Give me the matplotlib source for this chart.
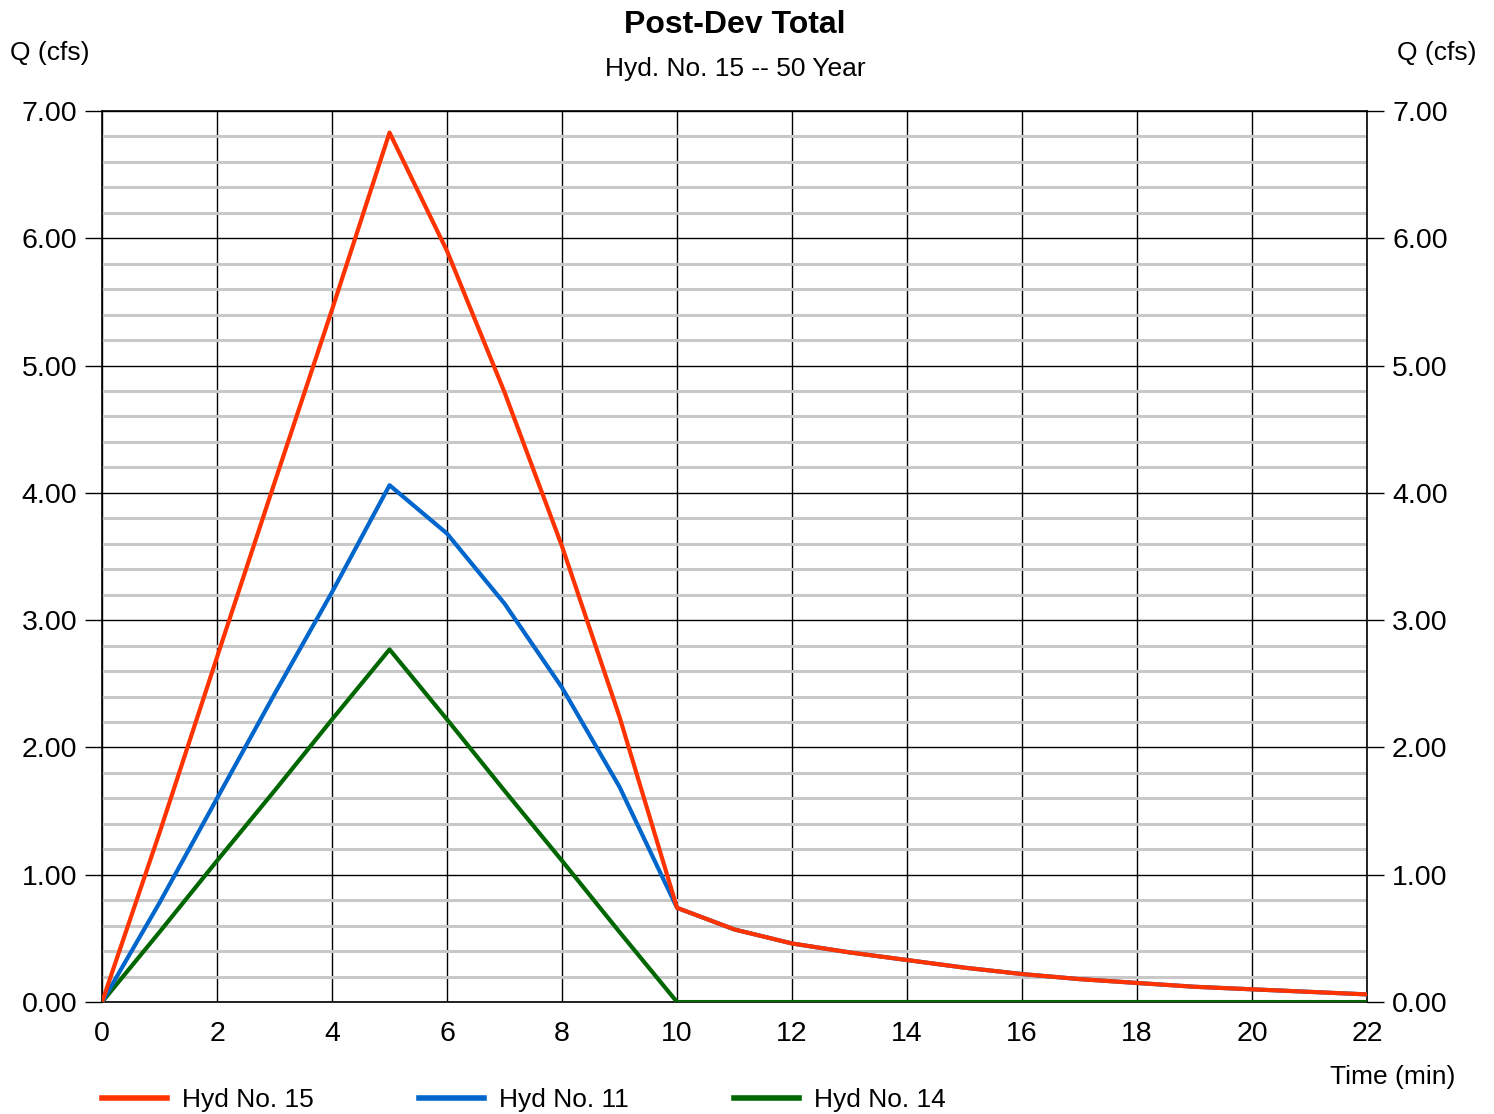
import matplotlib
matplotlib.use("Agg")
from matplotlib import pyplot as plt
from matplotlib.ticker import MultipleLocator

plt.rcParams["font.family"] = ["Liberation Sans", "DejaVu Sans"]

# === 数据 ===
time_min = [0, 1, 2, 3, 4, 5, 6, 7, 8, 9, 10, 11, 12, 13, 14, 15, 16, 17, 18, 19, 20, 21, 22]
hyd15 = [0, 1.33, 2.71, 4.08, 5.44, 6.83, 5.90, 4.79, 3.58, 2.24, 0.74, 0.57, 0.46, 0.39, 0.33,
         0.27, 0.22, 0.18, 0.15, 0.12, 0.10, 0.08, 0.06]
hyd11 = [0, 0.78, 1.60, 2.42, 3.22, 4.06, 3.68, 3.13, 2.47, 1.69, 0.74, 0.57, 0.46, 0.39, 0.33,
         0.27, 0.22, 0.18, 0.15, 0.12, 0.10, 0.08, 0.06]
hyd14 = [0, 0.55, 1.11, 1.66, 2.22, 2.77, 2.22, 1.66, 1.11, 0.55, 0, 0, 0, 0, 0,
         0, 0, 0, 0, 0, 0, 0, 0]
series = [("Hyd No. 15", hyd15, "#ff3300"),
          ("Hyd No. 11", hyd11, "#0066cc"),
          ("Hyd No. 14", hyd14, "#006600")]

fig = plt.figure(figsize=(14.94, 11.14), dpi=100)
ax = fig.add_axes([0.0683, 0.1005, 0.8467, 0.7999])

# 网格
ax.set_xlim(0, 22)
ax.set_ylim(0, 7)
ax.yaxis.set_major_locator(MultipleLocator(1))
ax.yaxis.set_minor_locator(MultipleLocator(0.2))
ax.xaxis.set_major_locator(MultipleLocator(2))
ax.grid(which="minor", axis="y", color="#c8c8c8", lw=2.2, zorder=0)
ax.grid(which="major", axis="both", color="black", lw=1.0, zorder=1)
for s in ax.spines.values():
    s.set_color("black")
    s.set_linewidth(1.2)

# 绘制顺序：绿 -> 蓝 -> 红（红在最上）
handles = {}
for name, vals, c in reversed(series):
    h, = ax.plot(time_min, vals, color=c, lw=3.0, zorder=3, label=name)
    handles[name] = h

ax.yaxis.set_major_formatter(lambda v, p: f"{v:.2f}")
ax.tick_params(axis="y", which="major", length=12, width=1, labelsize=20.5,
               left=True, right=True, labelleft=True, labelright=True, pad=6)
ax.tick_params(axis="y", which="minor", length=0)
ax.tick_params(axis="x", length=0, labelsize=20.5, pad=14)

# 标题与标注
fig.text(0.492, 0.978, "Post-Dev Total", ha="center", va="center",
         fontsize=23, fontweight="bold")
fig.text(0.492, 0.938, "Hyd. No. 15 -- 50 Year", ha="center", va="center", fontsize=19)
fig.text(0.007, 0.952, "Q (cfs)", ha="left", va="center", fontsize=19)
fig.text(0.988, 0.952, "Q (cfs)", ha="right", va="center", fontsize=19)
fig.text(0.974, 0.033, "Time (min)", ha="right", va="center", fontsize=19)

leg = fig.legend([handles[n] for n, _, _ in series], [n for n, _, _ in series],
                 loc="center left", bbox_to_anchor=(0.0685, 0.0125), ncol=3,
                 frameon=False, fontsize=19, handlelength=2.45, handletextpad=0.57,
                 columnspacing=4.0, borderpad=0.0, borderaxespad=0.0)
for l in leg.get_lines():
    l.set_linewidth(4)

fig.savefig("out.png", dpi=100)
